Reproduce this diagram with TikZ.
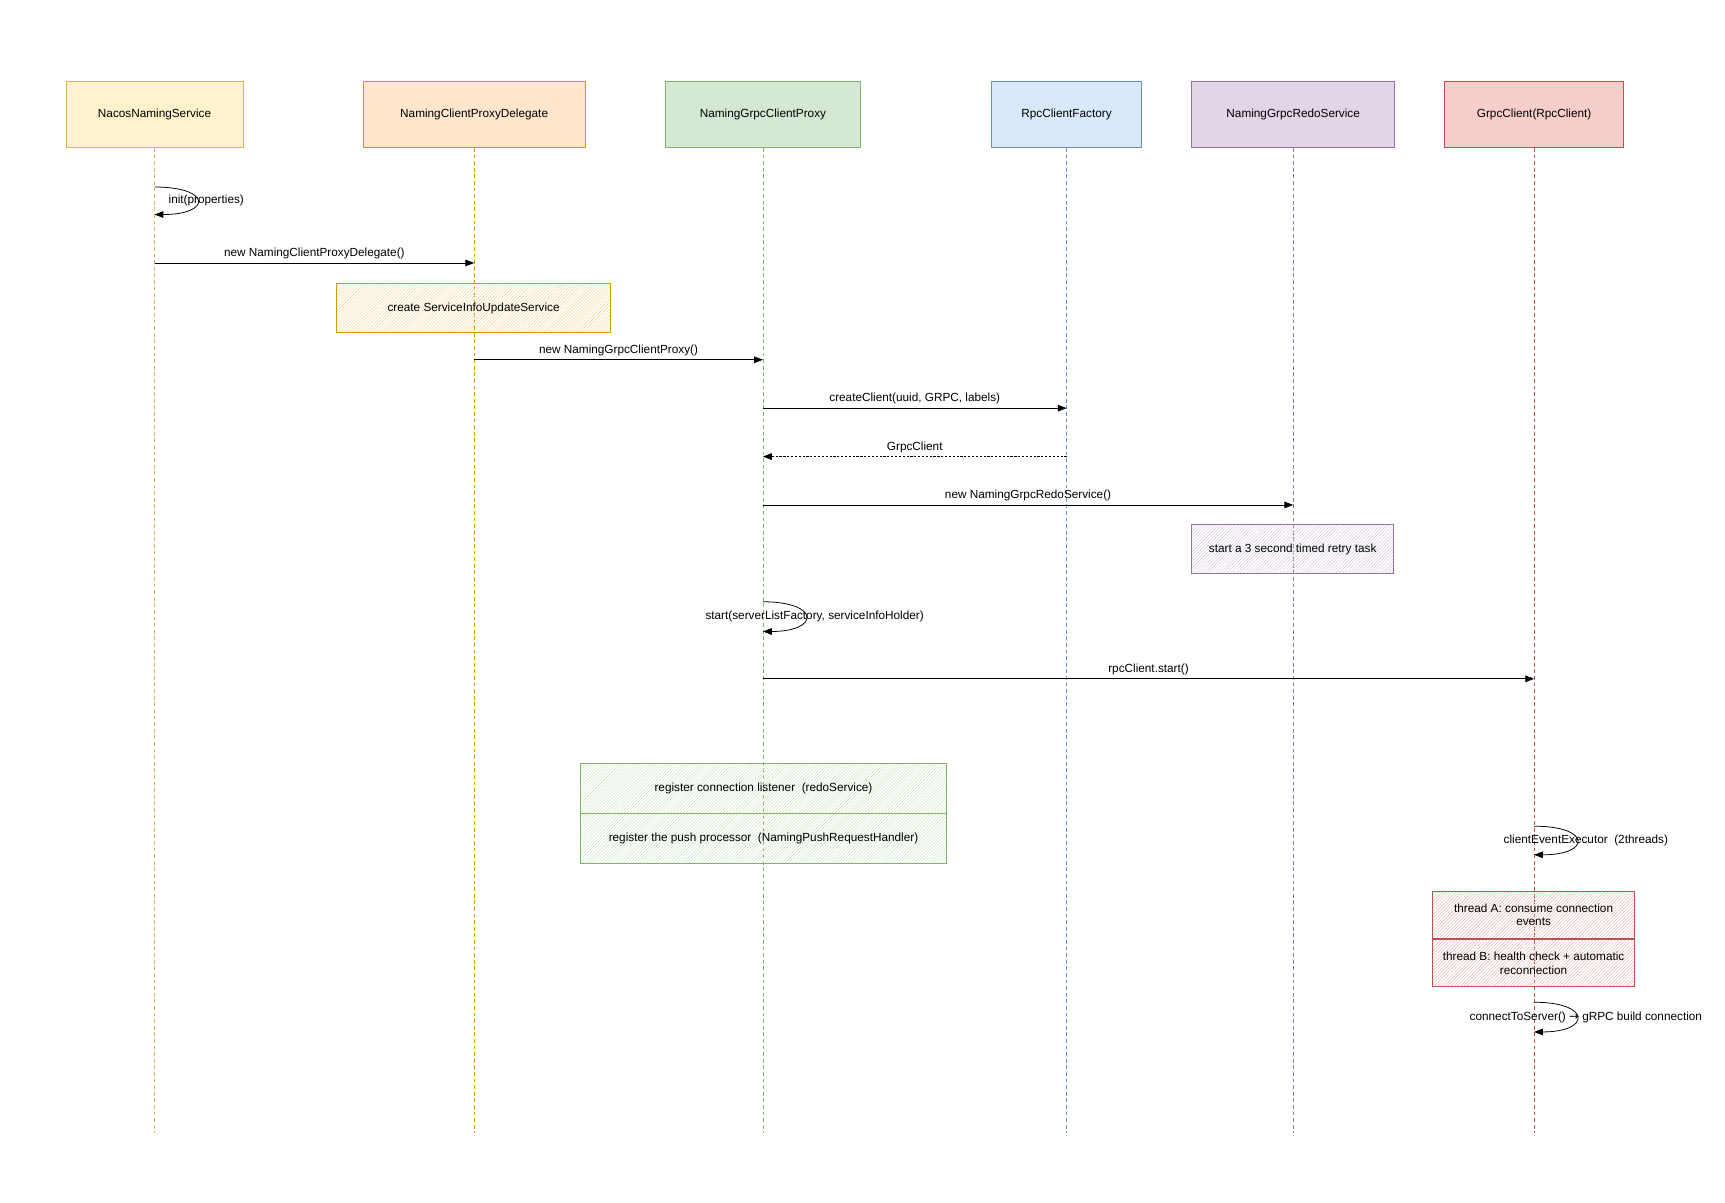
\documentclass[tikz,border=0pt]{standalone}
\usepackage{fontspec}
\setmainfont{Liberation Sans}
\newfontfamily\arrowfont{DejaVu Sans}
\usepackage{tikz}
\usetikzlibrary{positioning, arrows.meta, patterns}
\usepackage{xcolor}
\definecolor{nacosFill}{HTML}{FFF2CC}
\definecolor{nacosLine}{HTML}{D6B656}
\definecolor{delegateFill}{HTML}{FFE6CC}
\definecolor{delegateLine}{HTML}{D79B00}
\definecolor{proxyFill}{HTML}{D5E8D4}
\definecolor{proxyLine}{HTML}{82B366}
\definecolor{factoryFill}{HTML}{DAE8FC}
\definecolor{factoryLine}{HTML}{6C8EBF}
\definecolor{redoFill}{HTML}{E1D5E7}
\definecolor{redoLine}{HTML}{9673A6}
\definecolor{grpcFill}{HTML}{F8CECC}
\definecolor{grpcLine}{HTML}{B85450}

\tikzset{
  actor/.style={draw=#1Line, fill=#1Fill, line width=0.9pt, minimum height=60pt, inner sep=2pt},
  lifeline/.style={dash pattern=on 3.5pt off 2.5pt, line width=0.6pt},
  msg/.style={-{Triangle[length=8pt, width=6pt]}, line width=0.7pt},
  reply/.style={msg, dash pattern=on 2pt off 1.5pt},
  note/.style={draw=#1Line, line width=0.8pt, pattern=north east lines, pattern color=#1Line!40,
    minimum height=44pt, inner sep=2pt, align=center},
  selflabel/.style={pos=0.5, xshift=8pt}
}

\begin{document}
\begin{tikzpicture}[x=1pt, y=-1pt, font=\fontsize{10.7}{12.5}\selectfont]
  \useasboundingbox (0,0) rectangle (1568,1093);

  % Participants
  \node[actor=nacos, minimum width=161pt] (nacos) at (140.5,104) {NacosNamingService};
  \node[actor=delegate, minimum width=202pt] (delegate) at (431,104) {NamingClientProxyDelegate};
  \node[actor=proxy, minimum width=177pt] (proxy) at (693.5,104) {NamingGrpcClientProxy};
  \node[actor=factory, minimum width=137pt] (factory) at (969.5,104) {RpcClientFactory};
  \node[actor=redo, minimum width=185pt] (redo) at (1175.5,104) {NamingGrpcRedoService};
  \node[actor=grpc, minimum width=163pt] (grpc) at (1394.5,104) {GrpcClient(RpcClient)};

  % Lifelines
  \foreach \p/\c in {nacos/nacosLine, delegate/delegateLine, proxy/proxyLine,
                     factory/factoryLine, redo/redoLine, grpc/grpcLine}
    \draw[lifeline, color=\c] (\p.south) -- (\p.south |- 0,1030);

  % Notes
  \node[note=delegate, minimum width=249pt] (infoNote) at (430.5,280) {create ServiceInfoUpdateService};
  \node[note=redo, minimum width=184pt] (retryNote) at (1175,499) {start a 3 second timed retry task};
  \node[note=proxy, minimum width=332pt, minimum height=45pt] (listenNote) at (694,716.5)
    {register connection listener~~(redoService)};
  \node[note=proxy, minimum width=332pt, minimum height=45pt, below=0pt of listenNote] (pushNote)
    {register the push processor~~(NamingPushRequestHandler)};
  \node[note=grpc, minimum width=184pt, minimum height=43pt] (threadA) at (1394,831.5)
    {thread A: consume connection\\events};
  \node[note=grpc, minimum width=184pt, minimum height=43pt, below=0pt of threadA] (threadB)
    {thread B: health check + automatic\\reconnection};

  % Messages
  \draw[msg] (nacos.south |- 0,170) .. controls +(52,0) and +(52,0) .. (nacos.south |- 0,195)
    node[selflabel] (initLabel) {init(properties)};
  \draw[msg] (nacos.south |- 0,239) -- node[above] (delegateLabel) {new NamingClientProxyDelegate()}
    (delegate.south |- 0,239);
  \draw[msg] (delegate.south |- 0,327) -- node[above] (proxyLabel) {new NamingGrpcClientProxy()}
    (proxy.south |- 0,327);
  \draw[msg] (proxy.south |- 0,371) -- node[above] (createLabel) {createClient(uuid, GRPC, labels)}
    (factory.south |- 0,371);
  \draw[reply] (factory.south |- 0,415) -- node[above] (returnLabel) {GrpcClient}
    (proxy.south |- 0,415);
  \draw[msg] (proxy.south |- 0,459) -- node[above] (redoLabel) {new NamingGrpcRedoService()}
    (redo.south |- 0,459);
  \draw[msg] (proxy.south |- 0,547) .. controls +(52,0) and +(52,0) .. (proxy.south |- 0,574)
    node[selflabel] (startLabel) {start(serverListFactory, serviceInfoHolder)};
  \draw[msg] (proxy.south |- 0,617) -- node[above] (rpcLabel) {rpcClient.start()}
    (grpc.south |- 0,617);
  \draw[msg] (grpc.south |- 0,751) .. controls +(52,0) and +(52,0) .. (grpc.south |- 0,777)
    node[selflabel] (executorLabel) {clientEventExecutor~~(2threads)};
  \draw[msg] (grpc.south |- 0,911) .. controls +(52,0) and +(52,0) .. (grpc.south |- 0,938)
    node[selflabel] (connectLabel) {connectToServer() {\arrowfont →} gRPC build connection};
\end{tikzpicture}
\end{document}
